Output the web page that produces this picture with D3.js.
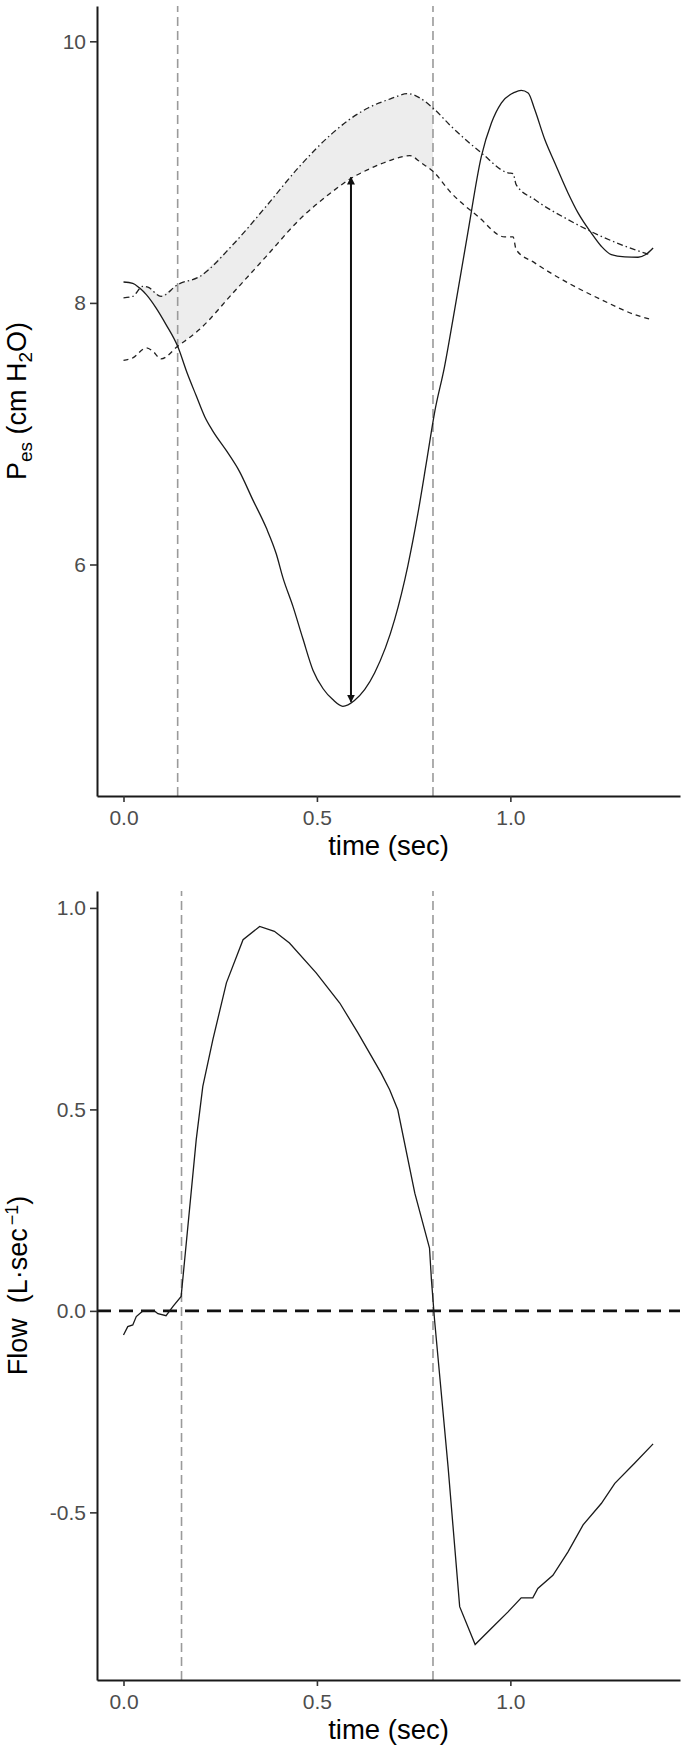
<!DOCTYPE html>
<html>
<head>
<meta charset="utf-8">
<script src="https://cdn.jsdelivr.net/npm/d3@7"></script>
<style>
  body { margin: 0; background: #fff; }
  text { font-family: "Liberation Sans", Arial, sans-serif; }
</style>
</head>
<body>
<script>

// time (sec) -> Pes (cm H2O), solid trace
var pesMeasured = [
  [0, 8.16], [0.024, 8.15], [0.041, 8.115], [0.059, 8.063], [0.084, 7.962], [0.11, 7.834],
  [0.14, 7.668], [0.165, 7.46], [0.188, 7.29], [0.21, 7.13], [0.231, 7.02], [0.266, 6.87],
  [0.3, 6.71], [0.334, 6.496], [0.369, 6.28], [0.395, 6.08], [0.412, 5.9], [0.438, 5.68],
  [0.464, 5.43], [0.49, 5.19], [0.516, 5.05], [0.541, 4.967], [0.567, 4.916], [0.597, 4.96],
  [0.649, 5.17], [0.701, 5.58], [0.735, 5.99], [0.761, 6.39], [0.783, 6.78], [0.804, 7.16],
  [0.83, 7.515], [0.856, 7.949], [0.89, 8.535], [0.925, 9.12], [0.951, 9.376], [0.977, 9.53],
  [1.011, 9.61], [1.028, 9.625], [1.046, 9.605], [1.063, 9.478], [1.089, 9.249], [1.115, 9.07],
  [1.149, 8.841], [1.175, 8.688], [1.209, 8.535], [1.235, 8.433], [1.261, 8.369], [1.296, 8.352],
  [1.33, 8.349], [1.35, 8.37], [1.369, 8.42]
];

// upper reference (dot-dash)
var pesUpper = [
  [0, 8.038], [0.024, 8.05], [0.05, 8.127], [0.063, 8.12], [0.097, 8.05], [0.14, 8.14],
  [0.196, 8.2], [0.283, 8.446], [0.369, 8.739], [0.455, 9.044], [0.541, 9.3], [0.583, 9.4],
  [0.632, 9.49], [0.69, 9.56], [0.735, 9.6], [0.77, 9.56], [0.8, 9.49], [0.847, 9.35],
  [0.925, 9.147], [0.994, 8.994], [1.007, 8.989], [1.015, 8.904], [1.063, 8.79], [1.149, 8.637],
  [1.235, 8.509], [1.321, 8.407], [1.36, 8.369]
];

// lower reference (dashed)
var pesLower = [
  [0, 7.561], [0.024, 7.58], [0.059, 7.656], [0.076, 7.63], [0.097, 7.572], [0.14, 7.668],
  [0.196, 7.796], [0.283, 8.076], [0.369, 8.356], [0.455, 8.637], [0.541, 8.853], [0.583, 8.943],
  [0.632, 9.019], [0.69, 9.09], [0.74, 9.126], [0.77, 9.07], [0.8, 9.006], [0.847, 8.841],
  [0.916, 8.662], [0.985, 8.505], [1.007, 8.505], [1.015, 8.407], [1.063, 8.306], [1.149, 8.153],
  [1.235, 8.025], [1.321, 7.911], [1.365, 7.872]
];

// time (sec) -> Flow (L/sec)
var flow = [
  [0, -0.06], [0.011, -0.039], [0.024, -0.035], [0.033, -0.014], [0.05, 0], [0.08, 0],
  [0.089, -0.007], [0.11, -0.012], [0.128, 0.011], [0.149, 0.036], [0.188, 0.425], [0.205, 0.557],
  [0.231, 0.673], [0.266, 0.814], [0.309, 0.921], [0.352, 0.954], [0.39, 0.942], [0.429, 0.913],
  [0.498, 0.839], [0.559, 0.764], [0.606, 0.69], [0.666, 0.59], [0.688, 0.549], [0.709, 0.499],
  [0.753, 0.292], [0.791, 0.156], [0.796, 0.077], [0.804, -0.022], [0.839, -0.387], [0.869, -0.734],
  [0.909, -0.828], [0.959, -0.78], [0.994, -0.747], [1.028, -0.712], [1.058, -0.712], [1.071, -0.689],
  [1.11, -0.656], [1.149, -0.598], [1.188, -0.531], [1.235, -0.478], [1.27, -0.428], [1.321, -0.378],
  [1.369, -0.33]
];

var pesMarkers = [0.14, 0.8];      // vertical dashed lines, top panel
var flowMarkers = [0.15, 0.8];     // vertical dashed lines, bottom panel
var ribbon = [0.045, 0.14, 0.8];   // shaded area: start, switch solid->dashed, end
var swing = { t: 0.588, from: 4.95, to: 8.96 }; // double arrow

var timeTicks = [0, 0.5, 1];
var pesTicks = [6, 8, 10];
var flowTicks = [-0.5, 0, 0.5, 1];
var timeLimits = [0, 1.37];
var pesLimits = [4.23, 10.27];
var flowLimits = [-0.916, 1.042];

var svg = d3.select('body').append('svg').attr('width', 685).attr('height', 1749);

var left = 97, right = 680;
var pad = (timeLimits[1] - timeLimits[0]) * 0.05;
var x = d3.scaleLinear().domain([timeLimits[0] - pad, timeLimits[1] + pad]).range([left, right]);
var yTop = d3.scaleLinear().domain(pesLimits).range([796, 6]);
var yBot = d3.scaleLinear().domain(flowLimits).range([1680, 891]);

var defs = svg.append('defs');
defs.append('marker').attr('id', 'head')
  .attr('viewBox', '0 0 10 10').attr('refX', 9).attr('refY', 5)
  .attr('markerWidth', 8).attr('markerHeight', 8).attr('markerUnits', 'userSpaceOnUse')
  .attr('orient', 'auto-start-reverse')
  .append('path').attr('d', 'M0,0 L10,5 L0,10 z').attr('fill', '#111');
defs.append('clipPath').attr('id', 'ribbonClip').append('rect')
  .attr('x', left).attr('y', 0).attr('width', x(ribbon[2]) - left).attr('height', 800);

function styleAxis(sel) {
  sel.select('.domain').attr('stroke', '#1a1a1a').attr('stroke-width', 2);
  sel.selectAll('.tick line').attr('stroke', '#333').attr('stroke-width', 1.6);
  sel.selectAll('.tick text').attr('font-size', 21).attr('fill', '#4d4d4d')
    .style('font-family', '"Liberation Sans", Arial, sans-serif');
}

function drawAxes(g, y, ticks, fmt, bottom) {
  g.append('g').attr('transform', 'translate(0,' + bottom + ')')
    .call(d3.axisBottom(x).tickValues(timeTicks).tickSize(6).tickSizeOuter(0).tickPadding(8)
      .tickFormat(function(d) { return d.toFixed(1); }))
    .call(styleAxis);
  g.append('g').attr('transform', 'translate(' + left + ',0)')
    .call(d3.axisLeft(y).tickValues(ticks).tickSize(7).tickSizeOuter(0).tickPadding(4).tickFormat(fmt))
    .call(styleAxis);
  g.append('text').attr('x', (left + right) / 2).attr('y', bottom + 59)
    .attr('text-anchor', 'middle').attr('font-size', 27.5).attr('fill', '#000').text('time (sec)');
}

var tx = function(d) { return x(d[0]); };

// ---------- top panel: Pes ----------
var pesPanel = svg.append('g');
var lineTop = d3.line().x(tx).y(function(d) { return yTop(d[1]); }).curve(d3.curveMonotoneX);

// shaded area between upper and max(lower, measured)
var poly = pesUpper.filter(function(d) { return d[0] >= ribbon[0] && d[0] <= 0.85; })
  .concat(pesLower.filter(function(d) { return d[0] > ribbon[1] && d[0] <= 0.85; }).reverse())
  .concat(pesMeasured.filter(function(d) { return d[0] >= 0.04 && d[0] <= ribbon[1]; }).reverse());
pesPanel.append('path').attr('clip-path', 'url(#ribbonClip)')
  .attr('d', d3.line().x(tx).y(function(d) { return yTop(d[1]); }).curve(d3.curveLinearClosed)(poly))
  .attr('fill', '#ededed').attr('stroke', 'none');

pesPanel.selectAll('line.marker').data(pesMarkers).enter().append('line')
  .attr('x1', x).attr('x2', x).attr('y1', yTop.range()[0]).attr('y2', yTop.range()[1])
  .attr('stroke', '#9a9a9a').attr('stroke-width', 1.6).attr('stroke-dasharray', '9,5');

pesPanel.append('path').attr('d', lineTop(pesUpper)).attr('fill', 'none')
  .attr('stroke', '#222').attr('stroke-width', 1.3).attr('stroke-dasharray', '6,3,1.5,3');
pesPanel.append('path').attr('d', lineTop(pesLower)).attr('fill', 'none')
  .attr('stroke', '#222').attr('stroke-width', 1.3).attr('stroke-dasharray', '5,4');
pesPanel.append('path').attr('d', lineTop(pesMeasured)).attr('fill', 'none')
  .attr('stroke', '#1a1a1a').attr('stroke-width', 1.3);

pesPanel.append('line')
  .attr('x1', x(swing.t)).attr('x2', x(swing.t)).attr('y1', yTop(swing.from)).attr('y2', yTop(swing.to))
  .attr('stroke', '#111').attr('stroke-width', 2)
  .attr('marker-start', 'url(#head)').attr('marker-end', 'url(#head)');

drawAxes(pesPanel, yTop, pesTicks, function(d) { return String(d); }, 796);

var pesTitle = pesPanel.append('text').attr('transform', 'translate(26,' + (796 + 6) / 2 + ') rotate(-90)')
  .attr('text-anchor', 'middle').attr('font-size', 27).attr('fill', '#000');
pesTitle.append('tspan').text('P');
pesTitle.append('tspan').attr('font-size', 19).attr('dy', 6).text('es');
pesTitle.append('tspan').attr('dy', -6).text(' (cm H');
pesTitle.append('tspan').attr('font-size', 19).attr('dy', 6).text('2');
pesTitle.append('tspan').attr('dy', -6).text('O)');

// ---------- bottom panel: Flow ----------
var flowPanel = svg.append('g');
var lineBot = d3.line().x(tx).y(function(d) { return yBot(d[1]); });

flowPanel.selectAll('line.marker').data(flowMarkers).enter().append('line')
  .attr('x1', x).attr('x2', x).attr('y1', yBot.range()[0]).attr('y2', yBot.range()[1])
  .attr('stroke', '#9a9a9a').attr('stroke-width', 1.6).attr('stroke-dasharray', '9,5');

flowPanel.append('line').attr('x1', left).attr('x2', right).attr('y1', yBot(0)).attr('y2', yBot(0))
  .attr('stroke', '#111').attr('stroke-width', 2.6).attr('stroke-dasharray', '14,8');

flowPanel.append('path').attr('d', lineBot(flow)).attr('fill', 'none')
  .attr('stroke', '#1a1a1a').attr('stroke-width', 1.3);

drawAxes(flowPanel, yBot, flowTicks, function(d) { return d.toFixed(1); }, 1680);

var flowTitle = flowPanel.append('text').attr('transform', 'translate(27,' + (1680 + 891) / 2 + ') rotate(-90)')
  .attr('text-anchor', 'middle').attr('font-size', 27).attr('fill', '#000');
flowTitle.append('tspan').text('Flow\u00a0\u00a0(L\u00b7sec');
flowTitle.append('tspan').attr('font-size', 18).attr('dy', -9).attr('dx', 3).text('\u22121');
flowTitle.append('tspan').attr('dy', 9).text(')');

</script>
</body>
</html>
